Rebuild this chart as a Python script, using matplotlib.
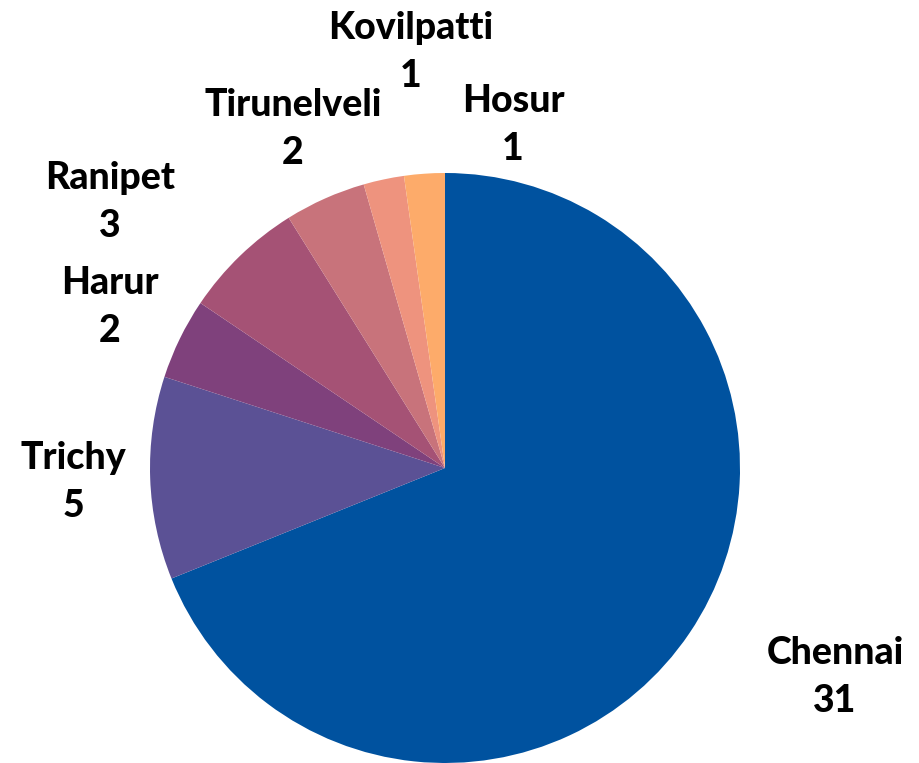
import matplotlib.pyplot as plt

# data
cities = ['Chennai', 'Trichy', 'Harur', 'Ranipet', 'Tirunelveli', 'Kovilpatti', 'Hosur']
counts = [31, 5, 2, 3, 2, 1, 1]
colors = ['#00529F', '#5B5195', '#7F417C', '#A55275', '#C8737B', '#EE937E', '#FDAB6A']

# label positions in pixels (x, y from top)
label_pos = [(835, 677), (73, 482), (110, 307), (110, 202), (293, 129), (411, 52), (513, 125)]

W, H = 920, 763
fig = plt.figure(figsize=(W / 100, H / 100), dpi=100)
ax = fig.add_axes([0, 0, 1, 1])

ax.pie(counts, colors=colors, startangle=90, counterclock=False,
       center=(445, H - 468), radius=295, frame=True,
       wedgeprops={'linewidth': 0})
ax.set_xlim(0, W)
ax.set_ylim(0, H)
ax.set_aspect('equal')
ax.axis('off')

for name, n, (x, y) in zip(cities, counts, label_pos):
    ax.text(x, H - y, f'{name}\n{n}', ha='center', va='center',
            fontsize=27, fontweight='black', family='Lato', linespacing=1.5)

fig.savefig('out.png', dpi=100)
